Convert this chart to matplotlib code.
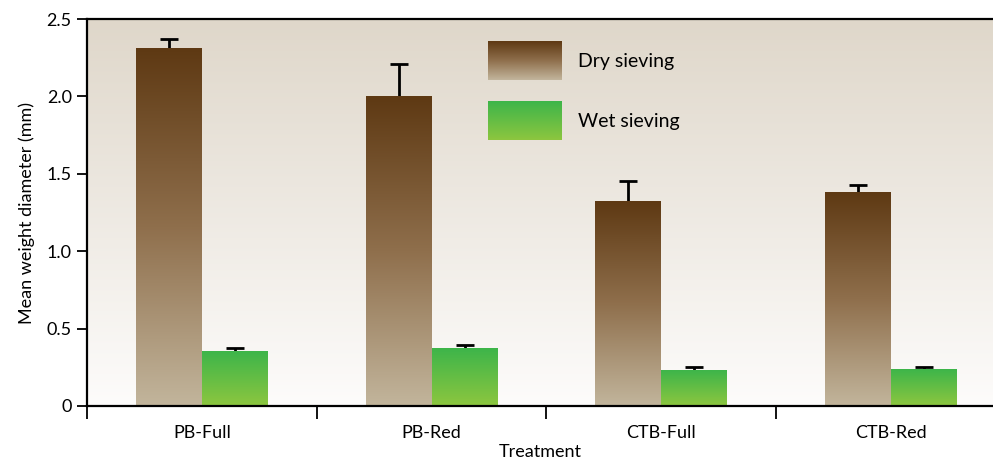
import numpy as np
import matplotlib
matplotlib.use("Agg")
import matplotlib.pyplot as plt
from matplotlib.colors import LinearSegmentedColormap

plt.rcParams['font.family'] = ['Lato', 'DejaVu Sans']

categories = ["PB-Full", "PB-Red", "CTB-Full", "CTB-Red"]
dry = [2.31, 2.00, 1.32, 1.38]
dry_err = [0.06, 0.21, 0.135, 0.045]
wet = [0.35, 0.37, 0.23, 0.235]
wet_err = [0.023, 0.023, 0.022, 0.015]
series_names = ["Dry sieving", "Wet sieving"]

dry_cmap = LinearSegmentedColormap.from_list("dry", ["#C2B59C", "#8F6F4C", "#5E3913"])
wet_cmap = LinearSegmentedColormap.from_list("wet", ["#8DC63F", "#3DB54A"])
bg_cmap = LinearSegmentedColormap.from_list("bg", ["#FDFCFB", "#DFD7CA"])

fig = plt.figure(figsize=(9.93, 4.62), dpi=100)
ax = fig.add_axes([87/993, 56/462, 906/993, 387/462])

grad = np.linspace(0, 1, 256).reshape(-1, 1)

# background gradient
ax.imshow(grad, cmap=bg_cmap, aspect='auto', extent=[0, 1, 0, 1],
          transform=ax.transAxes, origin='lower', zorder=0)

x = np.arange(len(categories))
w = 0.287
bars_d = ax.bar(x - w/2, dry, w, color='none', zorder=2)
bars_w = ax.bar(x + w/2, wet, w, color='none', zorder=2)
for bars, cmap in ((bars_d, dry_cmap), (bars_w, wet_cmap)):
    for r in bars:
        x0, y0 = r.get_x(), r.get_y()
        ax.imshow(grad, cmap=cmap, aspect='auto', origin='lower',
                  extent=[x0, x0 + r.get_width(), y0, y0 + r.get_height()], zorder=2)

for xs, vals, errs in ((x - w/2, dry, dry_err), (x + w/2, wet, wet_err)):
    eb = ax.errorbar(xs, vals, yerr=[np.zeros(len(vals)), errs], fmt='none',
                     ecolor='black', elinewidth=2, capsize=6.5, capthick=2, zorder=1)
    caplines = eb[1]
    if len(caplines) == 2:
        caplines[0].set_visible(False)

ax.set_xlim(-0.5, -0.5 + 906/229.7)
ax.set_ylim(0, 2.5)
ax.set_yticks([0, 0.5, 1.0, 1.5, 2.0, 2.5])
ax.set_yticklabels(["0", "0.5", "1.0", "1.5", "2.0", "2.5"])
ax.set_xticks(x)
ax.set_xticklabels(categories)
ax.set_xticks(np.arange(len(categories)) - 0.5, minor=True)
ax.tick_params(axis='x', which='major', length=0, pad=14, labelsize=13)
ax.tick_params(axis='x', which='minor', length=9, width=1.3, direction='out')
ax.tick_params(axis='y', length=7, width=1.3, direction='out', labelsize=13, pad=4)

for s in ['left', 'bottom', 'top']:
    ax.spines[s].set_linewidth(1.6)
ax.spines['right'].set_visible(False)

ax.set_xlabel("Treatment", fontsize=13, labelpad=2)
ax.set_ylabel("Mean weight diameter (mm)", fontsize=13, labelpad=8)

# legend drawn manually
ax_w = 906.0
ax_h = 387.0
def px2ax(px, py):
    return ((px - 87) / ax_w, (406 - py) / ax_h)
for (top, cmap, name) in ((41, dry_cmap, series_names[0]), (101, wet_cmap, series_names[1])):
    xa0, ya1 = px2ax(488, top)
    xa1, ya0 = px2ax(562, top + 39)
    ax.imshow(grad, cmap=cmap, aspect='auto', origin='lower',
              extent=[xa0, xa1, ya0, ya1], transform=ax.transAxes, zorder=3)
    tx, ty = px2ax(578, top + 20)
    ax.text(tx, ty, name, transform=ax.transAxes, fontsize=14, va='center', ha='left')

fig.savefig("out.png", dpi=100)
